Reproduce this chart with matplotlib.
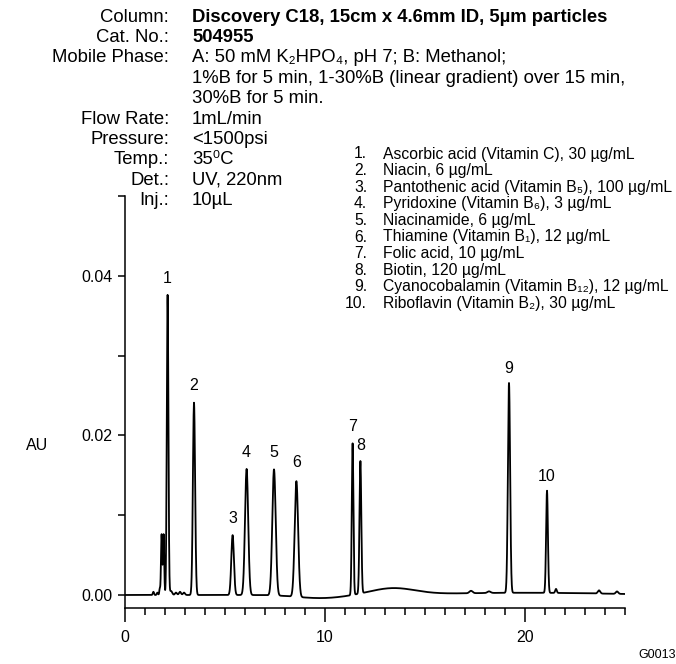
import numpy as np
import matplotlib
matplotlib.use("Agg")
import matplotlib.pyplot as plt

plt.rcParams['font.family'] = ['Liberation Sans', 'DejaVu Sans']

# labelled peaks: retention time (min), height (AU), width (min)
peak_labels = ['1', '2', '3', '4', '5', '6', '7', '8', '9', '10']
peak_times = [2.13, 3.45, 5.38, 6.08, 7.45, 8.57, 11.38, 11.77, 19.2, 21.1]
peak_heights = [0.0376, 0.0241, 0.0075, 0.0158, 0.0158, 0.0145, 0.0190, 0.0166, 0.0263, 0.0128]
peak_widths = [0.04, 0.055, 0.065, 0.08, 0.085, 0.085, 0.04, 0.045, 0.055, 0.045]

# small unlabelled peaks
minor_times = [1.42, 1.62, 1.74, 1.83, 1.93, 2.3, 2.55, 2.75, 2.95, 17.3, 18.2, 21.55, 23.7, 24.6]
minor_heights = [0.0004, 0.0003, 0.0008, 0.0076, 0.0076, 0.0005, 0.0003, 0.0004, 0.0003,
                 0.0003, 0.0002, 0.0005, 0.0004, 0.0003]
minor_widths = [0.03, 0.03, 0.025, 0.03, 0.03, 0.06, 0.05, 0.05, 0.05, 0.08, 0.08, 0.04, 0.06, 0.06]

# slow baseline drift
drift_times = [9.8, 13.4, 20.0]
drift_heights = [-0.0004, 0.0008, 0.00028]
drift_widths = [1.2, 1.1, 4.0]

conditions = [
    ('Column:', 'Discovery C18, 15cm x 4.6mm ID, 5\u00b5m particles'),
    ('Cat. No.:', '504955'),
    ('Mobile Phase:', 'A: 50 mM K\u2082HPO\u2084, pH 7; B: Methanol;'),
    ('', '1%B for 5 min, 1-30%B (linear gradient) over 15 min,'),
    ('', '30%B for 5 min.'),
    ('Flow Rate:', '1mL/min'),
    ('Pressure:', '<1500psi'),
    ('Temp.:', '35\u2070C'),
    ('Det.:', 'UV, 220nm'),
    ('Inj.:', '10\u00b5L'),
]

compounds = [
    'Ascorbic acid (Vitamin C), 30 \u00b5g/mL',
    'Niacin, 6 \u00b5g/mL',
    'Pantothenic acid (Vitamin B\u2085), 100 \u00b5g/mL',
    'Pyridoxine (Vitamin B\u2086), 3 \u00b5g/mL',
    'Niacinamide, 6 \u00b5g/mL',
    'Thiamine (Vitamin B\u2081), 12 \u00b5g/mL',
    'Folic acid, 10 \u00b5g/mL',
    'Biotin, 120 \u00b5g/mL',
    'Cyanocobalamin (Vitamin B\u2081\u2082), 12 \u00b5g/mL',
    'Riboflavin (Vitamin B\u2082), 30 \u00b5g/mL',
]


def trace(t):
    y = np.zeros_like(t)
    for tt, h, w in zip(peak_times + minor_times + drift_times,
                        peak_heights + minor_heights + drift_heights,
                        peak_widths + minor_widths + drift_widths):
        y += h * np.exp(-0.5 * ((t - tt) / w) ** 2)
    return y


W, H = 676, 664
fig = plt.figure(figsize=(W / 100, H / 100), dpi=100)
ax = fig.add_axes([125 / W, 1 - 608 / H, 500 / W, 412 / H])

t = np.linspace(0, 25, 6000)
ax.plot(t, trace(t), color='black', lw=1.3)

for lab, tt, h in zip(peak_labels, peak_times, peak_heights):
    ax.text(tt, h + 0.0021, lab, ha='center', va='center', fontsize=11.5)

ax.set_xlim(0, 25)
ax.set_ylim(-0.00163, 0.05)
ax.spines['top'].set_visible(False)
ax.spines['right'].set_visible(False)
ax.spines['left'].set_linewidth(1.1)
ax.spines['bottom'].set_linewidth(1.1)
ax.set_xticks([0, 10, 20])
ax.set_xticks(np.arange(0, 26, 1), minor=True)
ax.set_yticks([0.0, 0.02, 0.04])
ax.set_yticklabels(['0.00', '0.02', '0.04'])
ax.set_yticks([0.01, 0.03, 0.05], minor=True)
ax.tick_params(axis='x', which='major', length=10, width=1.1, labelsize=11.5, pad=6)
ax.tick_params(axis='x', which='minor', length=5, width=1.1)
ax.tick_params(axis='y', which='both', length=5, width=1.1, labelsize=11.5, pad=4)

fig.text(37 / W, 1 - 445 / H, 'AU', ha='center', va='center', fontsize=11.5)
fig.text(638 / W, 1 - 655 / H, 'G0013', ha='left', va='center', fontsize=9)

for i, (k, v) in enumerate(conditions):
    y = 1 - (17 + 20.4 * i) / H
    if k:
        fig.text(169 / W, y, k, ha='right', va='center', fontsize=13.3)
    fig.text(192 / W, y, v, ha='left', va='center', fontsize=13.3,
             fontweight='bold' if i < 2 else 'normal')

for i, c in enumerate(compounds):
    y = 1 - (154 + 16.6 * i) / H
    fig.text(367 / W, y, '%d.' % (i + 1), ha='right', va='center', fontsize=11.3)
    fig.text(383 / W, y, c, ha='left', va='center', fontsize=11.3)

fig.savefig('out.png', dpi=100)
